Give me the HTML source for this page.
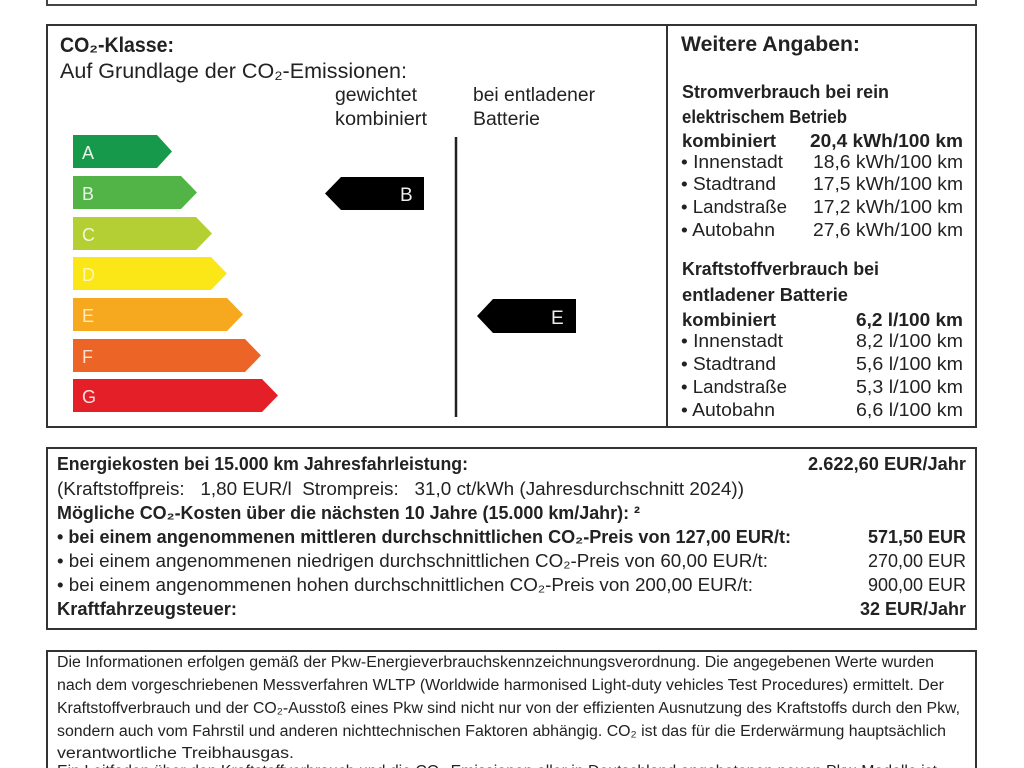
<!DOCTYPE html>
<html><head><meta charset="utf-8"><style>
html,body{margin:0;padding:0;background:#fff;}
svg{display:block;}
text{font-family:"Liberation Sans","DejaVu Sans",sans-serif;fill:#222;}
.b{font-weight:bold;}
</style></head><body>
<svg width="1024" height="768" viewBox="0 0 1024 768" xmlns="http://www.w3.org/2000/svg">
<rect width="1024" height="768" fill="#fff"/>
<path d="M47 -2 V5 H976 V-2" fill="none" stroke="#444" stroke-width="2"/>
<rect x="47" y="25" width="929" height="402" fill="none" stroke="#333" stroke-width="2"/>
<line x1="667" y1="25" x2="667" y2="427" stroke="#333" stroke-width="2"/>
<text x="60" y="52" class="b" font-size="21" textLength="114" lengthAdjust="spacingAndGlyphs">CO₂-Klasse:</text>
<text x="60" y="78" font-size="21" textLength="347" lengthAdjust="spacingAndGlyphs">Auf Grundlage der CO₂-Emissionen:</text>
<text x="335" y="101" font-size="19" textLength="82" lengthAdjust="spacingAndGlyphs">gewichtet</text>
<text x="335" y="125" font-size="19" textLength="92" lengthAdjust="spacingAndGlyphs">kombiniert</text>
<text x="473" y="101" font-size="19" textLength="122" lengthAdjust="spacingAndGlyphs">bei entladener</text>
<text x="473" y="125" font-size="19" textLength="67" lengthAdjust="spacingAndGlyphs">Batterie</text>
<g>
<polygon points="73,135 157,135 172,151.5 157,168 73,168" fill="#16994a"/>
<polygon points="73,176 181,176 197,192.5 181,209 73,209" fill="#52b447"/>
<polygon points="73,217 196,217 212,233.5 196,250 73,250" fill="#b3cf33"/>
<polygon points="73,257 211,257 227,273.5 211,290 73,290" fill="#fbe617"/>
<polygon points="73,298 227,298 243,314.5 227,331 73,331" fill="#f6a91f"/>
<polygon points="73,339 245,339 261,355.5 245,372 73,372" fill="#ed6526"/>
<polygon points="73,379 262,379 278,395.5 262,412 73,412" fill="#e51f27"/>
</g>
<g font-size="18">
<text x="82" y="159" style="fill:#e8f5e8">A</text>
<text x="82" y="200" style="fill:#e8f5e8">B</text>
<text x="82" y="241" style="fill:#f2f7d8">C</text>
<text x="82" y="281" style="fill:#fff7b0">D</text>
<text x="82" y="322" style="fill:#fde8c0">E</text>
<text x="82" y="363" style="fill:#fde0d0">F</text>
<text x="82" y="403" style="fill:#fde0e0">G</text>
</g>
<line x1="456" y1="137" x2="456" y2="417" stroke="#222" stroke-width="2.5"/>
<polygon points="325,193.5 341,177 424,177 424,210 341,210" fill="#000"/>
<text x="400" y="201" font-size="19" style="fill:#eee">B</text>
<polygon points="477,316 493,299 576,299 576,333 493,333" fill="#000"/>
<text x="551" y="324" font-size="19" style="fill:#eee">E</text>
<text x="681" y="51" class="b" font-size="21" textLength="179" lengthAdjust="spacingAndGlyphs">Weitere Angaben:</text>
<g font-size="18">
<text x="682" y="98" class="b" textLength="207" lengthAdjust="spacingAndGlyphs">Stromverbrauch bei rein</text>
<text x="682" y="123" class="b" textLength="165" lengthAdjust="spacingAndGlyphs">elektrischem Betrieb</text>
<text x="682" y="147" class="b" textLength="94" lengthAdjust="spacingAndGlyphs">kombiniert</text>
<text x="963" y="147" class="b" text-anchor="end" textLength="153" lengthAdjust="spacingAndGlyphs">20,4 kWh/100 km</text>
<text x="681" y="168" textLength="102" lengthAdjust="spacingAndGlyphs">• Innenstadt</text><text x="963" y="168" text-anchor="end" textLength="150" lengthAdjust="spacingAndGlyphs">18,6 kWh/100 km</text>
<text x="681" y="190" textLength="95" lengthAdjust="spacingAndGlyphs">• Stadtrand</text><text x="963" y="190" text-anchor="end" textLength="150" lengthAdjust="spacingAndGlyphs">17,5 kWh/100 km</text>
<text x="681" y="213" textLength="106" lengthAdjust="spacingAndGlyphs">• Landstraße</text><text x="963" y="213" text-anchor="end" textLength="150" lengthAdjust="spacingAndGlyphs">17,2 kWh/100 km</text>
<text x="681" y="236" textLength="94" lengthAdjust="spacingAndGlyphs">• Autobahn</text><text x="963" y="236" text-anchor="end" textLength="150" lengthAdjust="spacingAndGlyphs">27,6 kWh/100 km</text>
<text x="682" y="275" class="b" textLength="197" lengthAdjust="spacingAndGlyphs">Kraftstoffverbrauch bei</text>
<text x="682" y="301" class="b" textLength="166" lengthAdjust="spacingAndGlyphs">entladener Batterie</text>
<text x="682" y="326" class="b" textLength="94" lengthAdjust="spacingAndGlyphs">kombiniert</text>
<text x="963" y="326" class="b" text-anchor="end" textLength="107" lengthAdjust="spacingAndGlyphs">6,2 l/100 km</text>
<text x="681" y="347" textLength="102" lengthAdjust="spacingAndGlyphs">• Innenstadt</text><text x="963" y="347" text-anchor="end" textLength="107" lengthAdjust="spacingAndGlyphs">8,2 l/100 km</text>
<text x="681" y="370" textLength="95" lengthAdjust="spacingAndGlyphs">• Stadtrand</text><text x="963" y="370" text-anchor="end" textLength="107" lengthAdjust="spacingAndGlyphs">5,6 l/100 km</text>
<text x="681" y="393" textLength="106" lengthAdjust="spacingAndGlyphs">• Landstraße</text><text x="963" y="393" text-anchor="end" textLength="107" lengthAdjust="spacingAndGlyphs">5,3 l/100 km</text>
<text x="681" y="416" textLength="94" lengthAdjust="spacingAndGlyphs">• Autobahn</text><text x="963" y="416" text-anchor="end" textLength="107" lengthAdjust="spacingAndGlyphs">6,6 l/100 km</text>
</g>
<rect x="47" y="448" width="929" height="181" fill="none" stroke="#333" stroke-width="2"/>
<g font-size="18">
<text x="57" y="470" class="b" textLength="411" lengthAdjust="spacingAndGlyphs">Energiekosten bei 15.000 km Jahresfahrleistung:</text>
<text x="966" y="470" class="b" text-anchor="end" textLength="158" lengthAdjust="spacingAndGlyphs">2.622,60 EUR/Jahr</text>
<text x="57" y="495" textLength="687" lengthAdjust="spacingAndGlyphs" xml:space="preserve">(Kraftstoffpreis:   1,80 EUR/l  Strompreis:   31,0 ct/kWh (Jahresdurchschnitt 2024))</text>
<text x="57" y="519" class="b" textLength="583" lengthAdjust="spacingAndGlyphs">Mögliche CO₂-Kosten über die nächsten 10 Jahre (15.000 km/Jahr): ²</text>
<text x="57" y="543" class="b" textLength="734" lengthAdjust="spacingAndGlyphs">• bei einem angenommenen mittleren durchschnittlichen CO₂-Preis von 127,00 EUR/t:</text>
<text x="966" y="543" class="b" text-anchor="end" textLength="98" lengthAdjust="spacingAndGlyphs">571,50 EUR</text>
<text x="57" y="567" textLength="711" lengthAdjust="spacingAndGlyphs">• bei einem angenommenen niedrigen durchschnittlichen CO₂-Preis von 60,00 EUR/t:</text>
<text x="966" y="567" text-anchor="end" textLength="98" lengthAdjust="spacingAndGlyphs">270,00 EUR</text>
<text x="57" y="591" textLength="696" lengthAdjust="spacingAndGlyphs">• bei einem angenommenen hohen durchschnittlichen CO₂-Preis von 200,00 EUR/t:</text>
<text x="966" y="591" text-anchor="end" textLength="98" lengthAdjust="spacingAndGlyphs">900,00 EUR</text>
<text x="57" y="615" class="b" textLength="180" lengthAdjust="spacingAndGlyphs">Kraftfahrzeugsteuer:</text>
<text x="966" y="615" class="b" text-anchor="end" textLength="106" lengthAdjust="spacingAndGlyphs">32 EUR/Jahr</text>
</g>
<path d="M47 780 V651 H976 V780" fill="none" stroke="#333" stroke-width="2"/>
<g font-size="15.5">
<text x="57" y="667" textLength="877" lengthAdjust="spacingAndGlyphs">Die Informationen erfolgen gemäß der Pkw-Energieverbrauchskennzeichnungsverordnung. Die angegebenen Werte wurden</text>
<text x="57" y="690" textLength="887" lengthAdjust="spacingAndGlyphs">nach dem vorgeschriebenen Messverfahren WLTP (Worldwide harmonised Light-duty vehicles Test Procedures) ermittelt. Der</text>
<text x="57" y="713" textLength="903" lengthAdjust="spacingAndGlyphs">Kraftstoffverbrauch und der CO₂-Ausstoß eines Pkw sind nicht nur von der effizienten Ausnutzung des Kraftstoffs durch den Pkw,</text>
<text x="57" y="736" textLength="889" lengthAdjust="spacingAndGlyphs">sondern auch vom Fahrstil und anderen nichttechnischen Faktoren abhängig. CO₂ ist das für die Erderwärmung hauptsächlich</text>
<text x="57" y="758" textLength="237" lengthAdjust="spacingAndGlyphs">verantwortliche Treibhausgas.</text>
<text x="57" y="776" textLength="880" lengthAdjust="spacingAndGlyphs">Ein Leitfaden über den Kraftstoffverbrauch und die CO₂-Emissionen aller in Deutschland angebotenen neuen Pkw-Modelle ist</text>
</g>
</svg>
</body></html>
